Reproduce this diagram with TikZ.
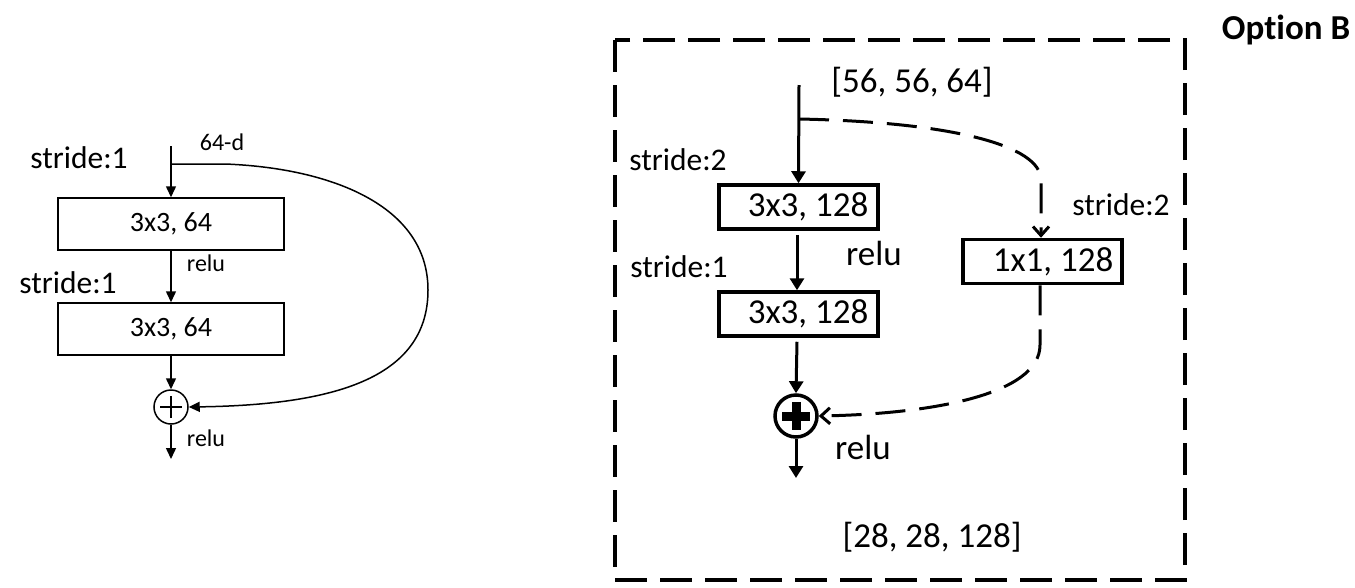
\documentclass[tikz,border=0pt]{standalone}
\usepackage{fontspec}
\setmainfont{Carlito}[Ligatures=NoCommon]
\usetikzlibrary{arrows.meta}
\begin{document}
\begin{tikzpicture}[x=1pt,y=-1pt,
  lbox/.style={draw,line width=1.5pt,minimum width=226pt,minimum height=52pt,inner sep=0pt,font=\fontsize{28}{30}\selectfont},
  rbox/.style={draw,line width=3.5pt,minimum width=159pt,minimum height=44pt,inner sep=0pt,font=\fontsize{35}{38}\selectfont},
  ltxt/.style={inner sep=0pt,font=\fontsize{24}{26}\selectfont},
  stxt/.style={inner sep=0pt,font=\fontsize{31.5}{33}\selectfont},
  rtxt/.style={inner sep=0pt,font=\fontsize{35}{38}\selectfont},
  larr/.style={line width=1.5pt,-{Triangle[length=11pt,width=10pt]}},
  rarr/.style={line width=3pt,-{Triangle[length=12pt,width=14pt]}},
  darr/.style={line width=3pt,dash pattern=on 30pt off 14pt,-{Straight Barb[length=9pt,width=16pt,line width=3pt]}},
]
\useasboundingbox (0,0) rectangle (1355,587);
% ---------- left block ----------
\node[ltxt] (d64) at (222,142) {64-d};
\node[stxt] (s1a) at (79,158) {stride:1};
\coordinate (lin) at (171,146);
\coordinate (lbr) at (171,164);
\node[lbox] (b1) at (171,224) {3x3, 64};
\node[ltxt] (r1) at (206,263) {relu};
\node[stxt] (s1b) at (68,283) {stride:1};
\node[lbox] (b2) at (171,329) {3x3, 64};
\node[draw,circle,line width=1.5pt,minimum size=34pt,inner sep=0pt,
  path picture={\draw[line width=1.3pt] ([xshift=-11pt]path picture bounding box.center) -- ([xshift=11pt]path picture bounding box.center);
                \draw[line width=1.3pt] ([yshift=-11pt]path picture bounding box.center) -- ([yshift=11pt]path picture bounding box.center);}] (add1) at (171,407) {};
\node[ltxt] (r2) at (206,438) {relu};
\coordinate (lout) at (171,459);
\draw[larr] (lin) -- (b1.north);
\draw[larr] (b1.south) -- (b2.north);
\draw[larr] (b2.south) -- (add1.north);
\draw[larr] (add1.south) -- (lout);
\draw[larr] (lbr) -- (225,164) .. controls (330,168) and (428,205) .. (428,290)
  .. controls (428,380) and (330,405) .. (add1.east);
% ---------- right block ----------
\draw[line width=3.5pt,dash pattern=on 32pt off 13pt] (615,40) rectangle (1185,580);
\node[inner sep=0pt,font=\fontsize{35}{38}\selectfont\bfseries] (opt) at (1286,30) {Option B};
\node[rtxt] (in) at (912,82) {[56, 56, 64]};
\coordinate (rin) at (799,85);
\coordinate (rbr) at (799,119);
\node[stxt] (s2a) at (678,160) {stride:2};
\node[rbox] (c1) at (798.5,207) {\hspace{19pt}3x3, 128};
\node[rtxt] (r3) at (874,253) {relu};
\node[stxt] (s1c) at (679,267) {stride:1};
\node[rbox] (c2) at (798.5,314) {\hspace{19pt}3x3, 128};
\node[stxt] (s2b) at (1121,205) {stride:2};
\node[rbox] (c3) at (1042.5,261.5) {\hspace{21pt}1x1, 128};
\node[draw,circle,line width=3.5pt,minimum size=42pt,inner sep=0pt,
  path picture={\fill ([xshift=-14pt,yshift=-4.5pt]path picture bounding box.center) rectangle ([xshift=14pt,yshift=4.5pt]path picture bounding box.center);
                \fill ([xshift=-4.5pt,yshift=-14pt]path picture bounding box.center) rectangle ([xshift=4.5pt,yshift=14pt]path picture bounding box.center);}] (add2) at (796,416) {};
\node[rtxt] (r4) at (863,447) {relu};
\coordinate (rout) at (796,478);
\node[rtxt] (outt) at (932,537) {[28, 28, 128]};
\draw[rarr] (rin) -- (c1.north);
\draw[rarr] ([xshift=-1.5pt]c1.south) ++(0,4) -- ([xshift=-1.5pt]c2.north);
\draw[rarr] ([xshift=-1.5pt]c2.south) ++(0,4) -- (add2.north);
\draw[rarr] (add2.south) -- (rout);
\draw[darr] (rbr) .. controls (950,122) and (1041,145) .. (1041,180) -- ([xshift=-1.5pt]c3.north);
\draw[darr] ([xshift=-2.5pt]c3.south) -- (1040,345) .. controls (1040,395) and (930,414) .. (add2.east);
\end{tikzpicture}
\end{document}
